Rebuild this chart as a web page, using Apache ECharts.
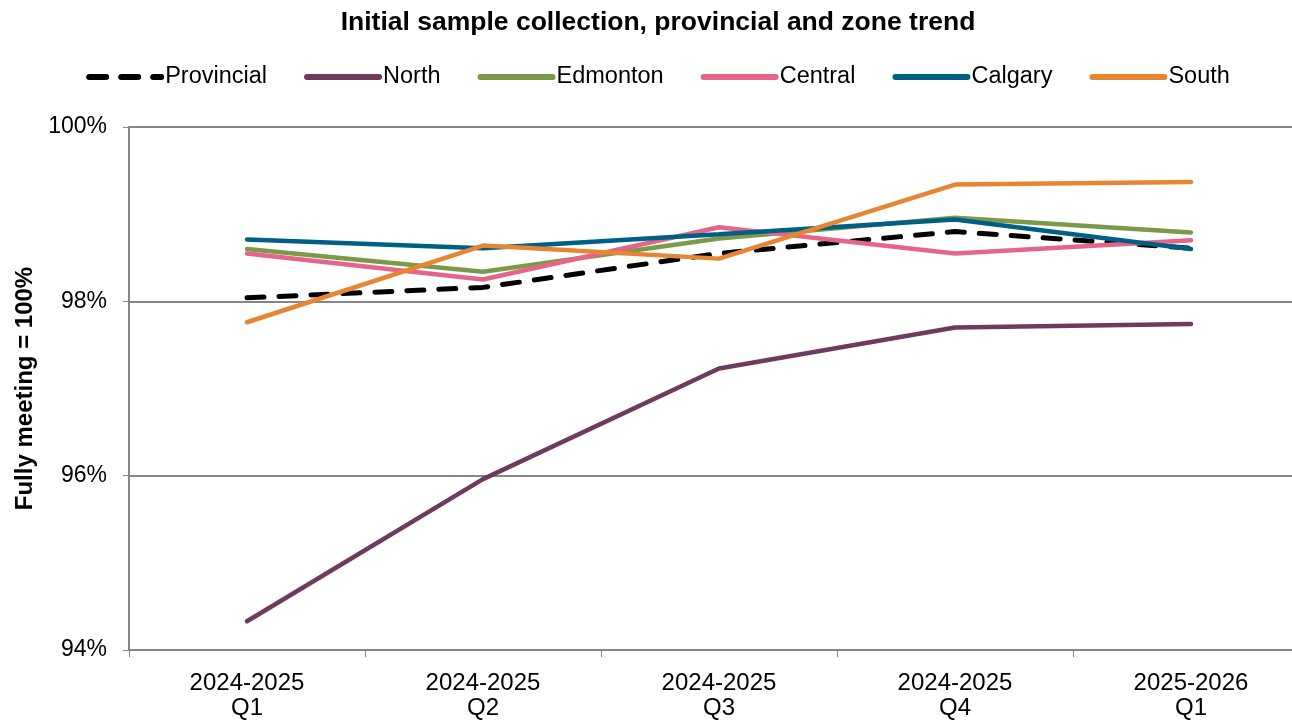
<!DOCTYPE html>
<html>
<head>
<meta charset="utf-8">
<script src="https://cdn.jsdelivr.net/npm/echarts@6/dist/echarts.min.js"></script>
<style>
  html, body { margin: 0; padding: 0; background: #fff; overflow: hidden; }
  #chart { width: 1316px; height: 721px; }
</style>
</head>
<body>
<div id="chart"></div>
<script>
  // quarters on the x axis
  const quarters = ['2024-2025\nQ1', '2024-2025\nQ2', '2024-2025\nQ3', '2024-2025\nQ4', '2025-2026\nQ1'];
  // percent fully meeting
  const provincial = [98.04, 98.16, 98.55, 98.80, 98.61];
  const north      = [94.33, 95.96, 97.23, 97.70, 97.74];
  const edmonton   = [98.60, 98.34, 98.72, 98.96, 98.79];
  const central    = [98.55, 98.25, 98.85, 98.55, 98.70];
  const calgary    = [98.71, 98.61, 98.77, 98.94, 98.60];
  const south      = [97.76, 98.64, 98.49, 99.34, 99.37];
  const yTicks = [94, 96, 98, 100];

  const chart = echarts.init(document.getElementById('chart'));

  function zone(name, data, color, dashed) {
    return {
      name: name,
      type: 'line',
      data: data,
      symbol: 'none',
      lineStyle: { color: color, width: dashed ? 5 : 4.5, type: dashed ? [17, 15] : 'solid', cap: 'round' },
      itemStyle: { color: color },
      z: dashed ? 1 : 2
    };
  }

  chart.setOption({
    animation: false,
    textStyle: { fontFamily: 'Liberation Sans, Arial, sans-serif' },
    title: {
      text: 'Initial sample collection, provincial and zone trend',
      left: 'center',
      top: 4,
      textStyle: { fontSize: 26.5, fontWeight: 'bold', color: '#000' }
    },
    legend: {
      top: 60,
      left: 'center',
      itemWidth: 72,
      itemHeight: 6,
      itemGap: 37,
      itemStyle: { opacity: 0 },
      lineStyle: { width: 6 },
      textStyle: { fontSize: 23.5, color: '#000', padding: [0, 0, 0, -1] },
      data: ['Provincial', 'North', 'Edmonton', 'Central', 'Calgary', 'South']
    },
    grid: { left: 129, top: 127, width: 1180, height: 524 },
    xAxis: {
      type: 'category',
      data: quarters,
      boundaryGap: true,
      axisLine: { lineStyle: { color: '#868686', width: 2 } },
      axisTick: { show: true, length: 7, lineStyle: { color: '#868686', width: 1 } },
      axisLabel: { fontSize: 24, color: '#000', lineHeight: 25, margin: 21 }
    },
    yAxis: {
      type: 'value',
      min: yTicks[0],
      max: yTicks[yTicks.length - 1],
      interval: 2,
      name: 'Fully meeting = 100%',
      nameLocation: 'middle',
      nameGap: 89,
      nameTextStyle: { fontSize: 24, fontWeight: 'bold', color: '#000' },
      axisLine: { show: true, lineStyle: { color: '#868686', width: 2 } },
      axisTick: { show: true, length: 6, lineStyle: { color: '#868686' } },
      axisLabel: { fontSize: 23, color: '#000', margin: 22, formatter: v => v + '%' },
      splitLine: { lineStyle: { color: '#868686', width: 2 } }
    },
    series: [
      zone('Provincial', provincial, '#000000', true),
      zone('North', north, '#6e3a5e'),
      zone('Edmonton', edmonton, '#7a9a48'),
      zone('Central', central, '#e5658a'),
      zone('Calgary', calgary, '#005f85'),
      zone('South', south, '#e68532')
    ]
  });
</script>
</body>
</html>
